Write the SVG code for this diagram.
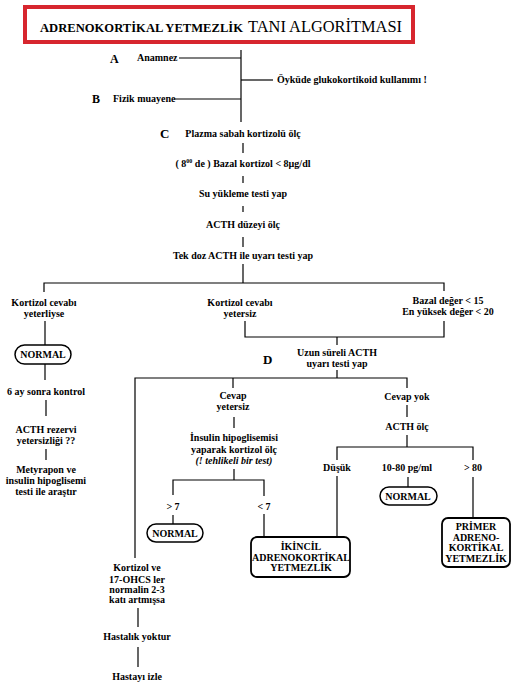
<svg xmlns="http://www.w3.org/2000/svg" width="520" height="695" viewBox="0 0 520 695">
<style>
text{font-family:"Liberation Serif","Times New Roman",serif;font-weight:bold;font-size:10px;fill:#000;text-anchor:middle}
.s{text-anchor:start}
.L{font-size:13px}
.it{font-style:italic}
.c line,.c polyline{stroke:#000;stroke-width:1.2;fill:none}
.pill{fill:#fff;stroke:#000;stroke-width:1.5}
.box{fill:#fff;stroke:#000;stroke-width:1.8}
</style>
<rect width="520" height="695" fill="#fff"/>
<g id="title">
<rect x="25" y="7" width="388" height="35" fill="#fff" stroke="#d7262e" stroke-width="4"/>
<text class="s" x="40" y="32" style="font-size:12.5px" textLength="203" lengthAdjust="spacingAndGlyphs">ADRENOKORTİKAL YETMEZLİK</text>
<text class="s" x="248" y="32" style="font-size:17.5px;font-weight:normal" textLength="154" lengthAdjust="spacingAndGlyphs">TANI ALGORİTMASI</text>
</g>
<g class="c" id="connectors">
<line x1="179" y1="58" x2="241" y2="58"/>
<line x1="241" y1="80" x2="273" y2="80"/>
<line x1="174" y1="99" x2="241" y2="99"/>
<line x1="241" y1="50" x2="241" y2="122"/>
<line x1="243" y1="143" x2="243" y2="153"/>
<line x1="243" y1="176" x2="243" y2="183"/>
<line x1="243" y1="206" x2="243" y2="212"/>
<line x1="243" y1="237" x2="243" y2="247"/>
<line x1="243" y1="264" x2="243" y2="283"/>
<polyline points="44,292 44,283 444,283 444,291"/>
<line x1="45" y1="321" x2="45" y2="345"/>
<line x1="45" y1="364" x2="45" y2="380"/>
<line x1="46" y1="400" x2="46" y2="416"/>
<line x1="46" y1="449" x2="46" y2="460"/>
<polyline points="245,321 245,337 444,337 444,321"/>
<line x1="337" y1="337" x2="337" y2="345"/>
<line x1="337" y1="370" x2="337" y2="378"/>
<polyline points="135,558 135,378 407,378 407,388"/>
<line x1="233" y1="378" x2="233" y2="388"/>
<line x1="234" y1="417" x2="234" y2="428"/>
<line x1="234" y1="469" x2="234" y2="480"/>
<polyline points="173,495 173,480 264,480 264,496"/>
<line x1="173" y1="515" x2="173" y2="524"/>
<line x1="264" y1="514" x2="264" y2="537"/>
<line x1="407" y1="405" x2="407" y2="417"/>
<line x1="407" y1="435" x2="407" y2="447"/>
<polyline points="337,460 337,447 473,447 473,460"/>
<line x1="337" y1="476" x2="337" y2="537"/>
<line x1="408" y1="477" x2="408" y2="487"/>
<line x1="473" y1="477" x2="473" y2="518"/>
<line x1="138" y1="608" x2="138" y2="627"/>
<line x1="138" y1="647" x2="138" y2="667"/>
</g>
<g id="A"><text class="s L" x="110" y="63" style="font-size:12px">A</text><text class="s" x="137" y="61">Anamnez</text></g>
<g id="oykude"><text class="s" x="277" y="83">Öyküde glukokortikoid kullanımı !</text></g>
<g id="B"><text class="s L" x="92" y="103" style="font-size:12px">B</text><text class="s" x="113" y="102">Fizik muayene</text></g>
<g id="C"><text class="s L" x="160" y="138">C</text><text x="243" y="137">Plazma sabah kortizolü ölç</text></g>
<g id="bazal"><text x="243" y="167">( 8<tspan dy="-4" style="font-size:6px">00</tspan><tspan dy="4"> de ) Bazal kortizol &lt; 8µg/dl</tspan></text></g>
<g id="su"><text x="243" y="197">Su yükleme testi yap</text></g>
<g id="acthd"><text x="243" y="228">ACTH düzeyi ölç</text></g>
<g id="tekdoz"><text x="243" y="259">Tek doz ACTH ile uyarı testi yap</text></g>
<g id="yeterli"><text x="44" y="306">Kortizol cevabı</text><text x="44" y="317">yeterliyse</text></g>
<g id="normal1"><rect class="pill" x="15" y="345" width="56" height="19" rx="9.5"/><text x="43" y="358">NORMAL</text></g>
<g id="kontrol"><text x="46" y="395">6 ay sonra kontrol</text></g>
<g id="rezerv"><text x="46" y="433">ACTH rezervi</text><text x="46" y="444">yetersizliği ??</text></g>
<g id="metyrapon"><text x="46" y="473">Metyrapon ve</text><text x="46" y="484">insulin hipoglisemi</text><text x="46" y="495">testi ile araştır</text></g>
<g id="yetersiz"><text x="240" y="306">Kortizol cevabı</text><text x="240" y="317">yetersiz</text></g>
<g id="bazal15"><text x="448" y="304">Bazal değer &lt; 15</text><text x="448" y="315">En yüksek değer &lt; 20</text></g>
<g id="D"><text class="s L" x="263" y="364">D</text><text x="337" y="356">Uzun süreli ACTH</text><text x="337" y="367">uyarı testi yap</text></g>
<g id="cevapyetersiz"><text x="233" y="399">Cevap</text><text x="233" y="410">yetersiz</text></g>
<g id="insulin"><text x="234" y="441">İnsulin hipoglisemisi</text><text x="234" y="453">yaparak kortizol ölç</text><text class="it" x="234" y="464">(! tehlikeli bir test)</text></g>
<g id="gt7"><text x="173" y="510">&gt; 7</text></g>
<g id="normal2"><rect class="pill" x="147" y="524" width="56" height="18" rx="9"/><text x="175" y="537">NORMAL</text></g>
<g id="lt7"><text x="264" y="510">&lt; 7</text></g>
<g id="ikincil"><rect class="box" x="251" y="537" width="99" height="40" rx="6"/><text x="301" y="550">İKİNCİL</text><text x="301" y="561">ADRENOKORTİKAL</text><text x="301" y="571">YETMEZLİK</text></g>
<g id="cevapyok"><text x="407" y="400">Cevap yok</text></g>
<g id="acthol"><text x="407" y="430">ACTH ölç</text></g>
<g id="dusuk"><text x="337" y="471">Düşük</text></g>
<g id="range"><text x="407" y="471">10-80 pg/ml</text></g>
<g id="gt80"><text x="473" y="471">&gt; 80</text></g>
<g id="normal3"><rect class="pill" x="380" y="487" width="57" height="18" rx="9"/><text x="408" y="500">NORMAL</text></g>
<g id="primer"><rect class="box" x="442" y="518" width="68" height="49" rx="6"/><text x="476" y="530">PRİMER</text><text x="476" y="541">ADRENO-</text><text x="476" y="551">KORTİKAL</text><text x="476" y="562">YETMEZLİK</text></g>
<g id="artmis"><text x="137" y="571">Kortizol ve</text><text x="137" y="583">17-OHCS ler</text><text x="137" y="593">normalin 2-3</text><text x="137" y="603">katı artmışsa</text></g>
<g id="hastalik"><text x="137" y="640">Hastalık yoktur</text></g>
<g id="izle"><text x="137" y="680">Hastayı izle</text></g>
</svg>
